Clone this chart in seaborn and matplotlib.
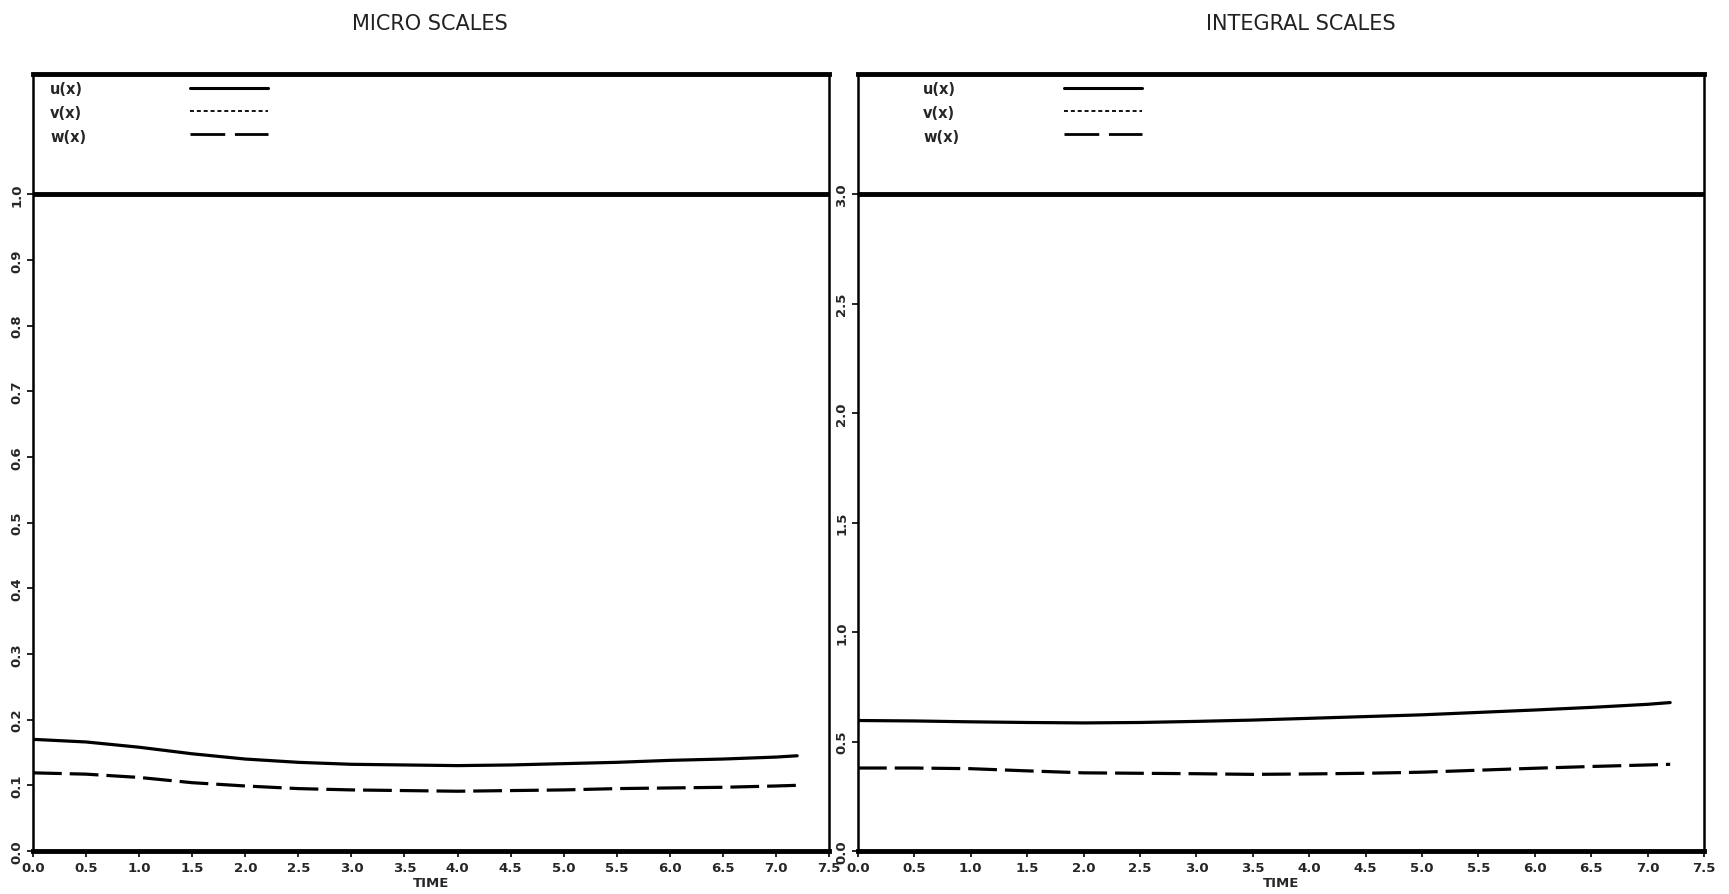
import numpy as np
import pandas as pd
import matplotlib
matplotlib.use("Agg")
import matplotlib.pyplot as plt
from matplotlib.lines import Line2D
import seaborn as sns

sns.set_theme(style="white")
plt.rcParams['font.family'] = ['DejaVu Sans']

# ---- data ----
time = [0.0, 0.5, 1.0, 1.5, 2.0, 2.5, 3.0, 3.5, 4.0, 4.5, 5.0, 5.5, 6.0, 6.5, 7.0, 7.2]
micro_u = [0.170, 0.166, 0.158, 0.148, 0.140, 0.135, 0.132, 0.131, 0.130, 0.131, 0.133, 0.135, 0.138, 0.140, 0.143, 0.145]
micro_w = [0.119, 0.117, 0.112, 0.104, 0.099, 0.095, 0.093, 0.092, 0.091, 0.092, 0.093, 0.095, 0.096, 0.097, 0.099, 0.100]
integral_u = [0.596, 0.594, 0.590, 0.587, 0.585, 0.587, 0.592, 0.598, 0.606, 0.614, 0.622, 0.633, 0.644, 0.656, 0.670, 0.678]
integral_w = [0.379, 0.379, 0.376, 0.366, 0.357, 0.355, 0.353, 0.350, 0.352, 0.355, 0.360, 0.369, 0.378, 0.386, 0.393, 0.396]

titles = ["MICRO SCALES", "INTEGRAL SCALES"]
series_labels = ["u(x)", "v(x)", "w(x)"]
x_ticks = [0.0, 0.5, 1.0, 1.5, 2.0, 2.5, 3.0, 3.5, 4.0, 4.5, 5.0, 5.5, 6.0, 6.5, 7.0, 7.5]
micro_yticks = [0.0, 0.1, 0.2, 0.3, 0.4, 0.5, 0.6, 0.7, 0.8, 0.9, 1.0]
integral_yticks = [0.0, 0.5, 1.0, 1.5, 2.0, 2.5, 3.0]

W, H = 1729, 895
fig = plt.figure(figsize=(W / 100, H / 100), dpi=100)

def px_axes(l, r, t, b):
    return fig.add_axes([l / W, 1 - b / H, (r - l) / W, (b - t) / H])

ax1 = px_axes(33, 829, 75, 852)
ax2 = px_axes(858, 1704, 75, 852)

W_DASH = (9, 2.5)
panels = [
    (ax1, micro_u, micro_w, micro_yticks, 1.0, 17, 157),
    (ax2, integral_u, integral_w, integral_yticks, 3.0, 65, 206),
]

for ax, u, w, yt, top, txt_off, hnd_off in panels:
    df = pd.DataFrame({
        "TIME": time * 2,
        "value": u + w,
        "series": ["u(x)"] * len(time) + ["w(x)"] * len(time),
    })
    sns.lineplot(data=df, x="TIME", y="value", style="series",
                 dashes={"u(x)": "", "w(x)": W_DASH}, color="black",
                 linewidth=2.3, legend=False, ax=ax)
    ax.axhline(top, color="black", linewidth=3.5)
    ax.set_xlim(0, 7.5)
    ax.set_ylim(0, top * 1.183)
    ax.set_xticks(x_ticks)
    ax.set_xticklabels([f"{t:.1f}" for t in x_ticks], fontsize=9.5, fontweight="bold")
    ax.set_yticks(yt)
    ax.set_yticklabels([f"{t:.1f}" for t in yt], fontsize=9.5, fontweight="bold",
                       rotation=90, va="center")
    ax.set_xlabel("TIME", fontsize=9.5, fontweight="bold", labelpad=2)
    ax.set_ylabel("")
    ax.tick_params(axis="both", direction="out", length=4, width=1.2, color="black",
                   pad=3, bottom=True, left=True)
    for side, lw in [("left", 1.8), ("right", 1.8), ("top", 3.5), ("bottom", 3.5)]:
        ax.spines[side].set_visible(True)
        ax.spines[side].set_color("black")
        ax.spines[side].set_linewidth(lw)
    ax.grid(False)

    # legend: labels on the left, line samples to the right
    axw = ax.get_position().width * W
    axh = ax.get_position().height * H
    row_y = [90, 113, 137]
    for lab, ry in zip(series_labels, row_y):
        ax.text(txt_off / axw, 1 - (ry - 75) / axh, lab, transform=ax.transAxes,
                ha="left", va="center", fontsize=10.5, fontweight="bold")
    handles = [
        Line2D([], [], color="black", linewidth=2.2, linestyle="-"),
        Line2D([], [], color="black", linewidth=1.3, linestyle=(0, (2.2, 1.6))),
        Line2D([], [], color="black", linewidth=2.0, linestyle=(0, (12.5, 3.5))),
    ]
    ax.legend(handles, ["", "", ""], loc="upper left", frameon=False,
              handlelength=5.6, handletextpad=0, handleheight=0.7,
              labelspacing=0.63, borderpad=0, borderaxespad=0,
              bbox_to_anchor=(hnd_off / axw, 1 - 8 / axh),
              prop={"size": 10})

fig.text(430 / W, 1 - 24 / H, titles[0], ha="center", va="center", fontsize=15, color="#222222")
fig.text(1301 / W, 1 - 24 / H, titles[1], ha="center", va="center", fontsize=15, color="#222222")

fig.savefig("out.png", dpi=100)
